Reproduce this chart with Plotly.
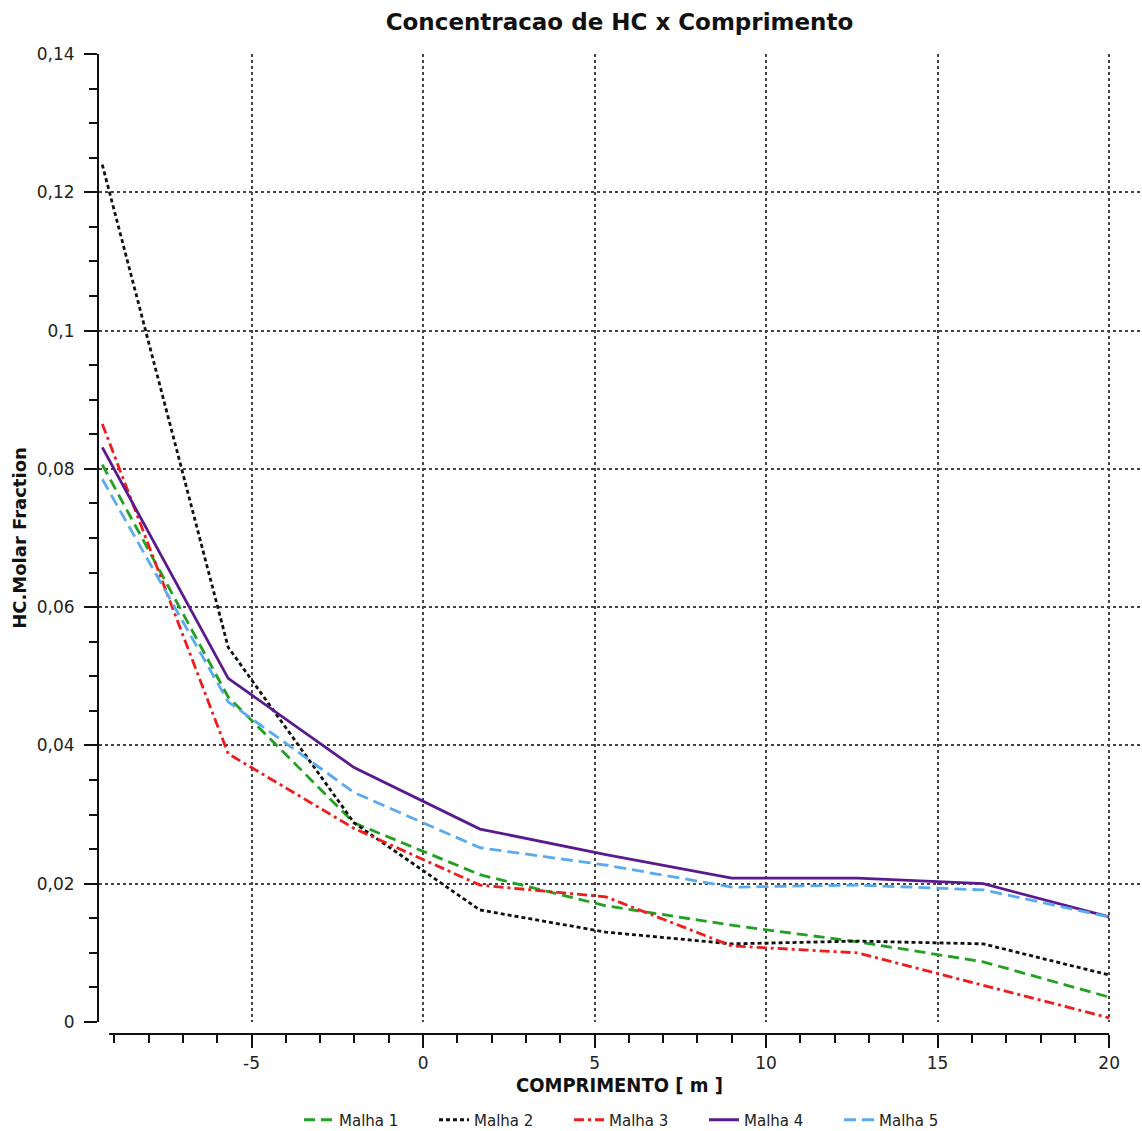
import plotly.graph_objects as go

# ---- data ----
x_pos = [-9.35, -5.68, -2.01, 1.66, 5.33, 9.0, 12.66, 16.33, 20.0]
malha1 = [0.0806, 0.0470, 0.0288, 0.0213, 0.0168, 0.0140, 0.0116, 0.0087, 0.0036]
malha2 = [0.1240, 0.0542, 0.0288, 0.0162, 0.0130, 0.0113, 0.0117, 0.0113, 0.0068]
malha3 = [0.0865, 0.0388, 0.0280, 0.0198, 0.0181, 0.0110, 0.0100, 0.0053, 0.0006]
malha4 = [0.0831, 0.0497, 0.0368, 0.0279, 0.0242, 0.0208, 0.0208, 0.0200, 0.0152]
malha5 = [0.0785, 0.0463, 0.0332, 0.0252, 0.0227, 0.0195, 0.0198, 0.0191, 0.0152]
series_names = ["Malha 1", "Malha 2", "Malha 3", "Malha 4", "Malha 5"]

y_tick_vals = [0, 0.02, 0.04, 0.06, 0.08, 0.10, 0.12, 0.14]
y_tick_text = ["0", "0,02", "0,04", "0,06", "0,08", "0,1", "0,12", "0,14"]
x_tick_vals = [-5, 0, 5, 10, 15, 20]
x_tick_text = ["-5", "0", "5", "10", "15", "20"]

styles = [
    dict(color="#22a022", dash="11px,6px", width=2.8),
    dict(color="#111111", dash="4px,3px", width=2.8),
    dict(color="#ee1c1c", dash="10px,4px,3px,4px", width=2.8),
    dict(color="#5a1a8e", dash="solid", width=2.8),
    dict(color="#5aaaf0", dash="12px,6px", width=2.8),
]

fig = go.Figure()
for name, ys, st in zip(series_names, [malha1, malha2, malha3, malha4, malha5], styles):
    fig.add_trace(go.Scatter(x=x_pos, y=ys, mode="lines", name=name, line=st))

tick_font = dict(family="DejaVu Sans", size=17, color="#222")

W, H = 1142, 1131
L, R, T, B = 99, 2, 54, 97
plot_h = H - T - B
plot_w = W - L - R

fig.update_layout(
    width=W, height=H,
    margin=dict(l=L, r=R, t=T, b=B, autoexpand=False),
    paper_bgcolor="white", plot_bgcolor="white",
    separators=",.",
    title=dict(text="<b>Concentracao de HC x Comprimento</b>",
               font=dict(family="DejaVu Sans", size=23, color="#111"),
               x=0.5, xref="paper", xanchor="center",
               y=1 - 22 / H, yref="container", yanchor="middle"),
    showlegend=True,
    legend=dict(orientation="h", x=0.5 + 17 / plot_w, xanchor="center", xref="paper",
                y=1 - 1120 / H, yref="container", yanchor="middle",
                font=dict(family="DejaVu Sans", size=15, color="#222"),
                entrywidth=90, entrywidthmode="pixels", tracegroupgap=0),
    xaxis=dict(range=[-9.446, 20.9], anchor="free", position=0, automargin=False,
               tickvals=x_tick_vals, ticktext=x_tick_text,
               ticks="outside", ticklen=13, tickwidth=2, tickcolor="#111",
               tickfont=tick_font, ticklabelstandoff=1,
               minor=dict(dtick=1, tick0=0, ticks="outside", ticklen=8, tickwidth=2,
                          tickcolor="#111", showgrid=False),
               showgrid=True, gridcolor="#444", griddash="dot", gridwidth=1.5,
               showline=False, zeroline=False,
               title=dict(text="<b>COMPRIMENTO [ m ]</b>",
                          font=dict(family="DejaVu Sans Condensed", size=20, color="#111"),
                          standoff=4)),
    yaxis=dict(range=[0, 0.14], domain=[12 / plot_h, 1], automargin=False,
               tickvals=y_tick_vals, ticktext=y_tick_text,
               ticks="outside", ticklen=13, tickwidth=2, tickcolor="#111",
               tickfont=tick_font, ticklabelstandoff=6,
               minor=dict(dtick=0.005, tick0=0, ticks="outside", ticklen=8, tickwidth=2,
                          tickcolor="#111", showgrid=False),
               showgrid=True, gridcolor="#444", griddash="dot", gridwidth=1.5,
               showline=True, linecolor="#111", linewidth=2, zeroline=False,
               title=dict(text="<b>HC.Molar Fraction</b>",
                          font=dict(family="DejaVu Sans", size=18, color="#111"),
                          standoff=5)),
)

# offset x-axis baseline
fig.add_shape(type="line", xref="x", yref="paper", x0=-9.15, x1=20, y0=0, y1=0,
              line=dict(color="#111", width=2))

fig.write_html("out.html", config={"displayModeBar": False},
               post_script="document.body.style.margin='0px';document.body.style.overflow='hidden';")
